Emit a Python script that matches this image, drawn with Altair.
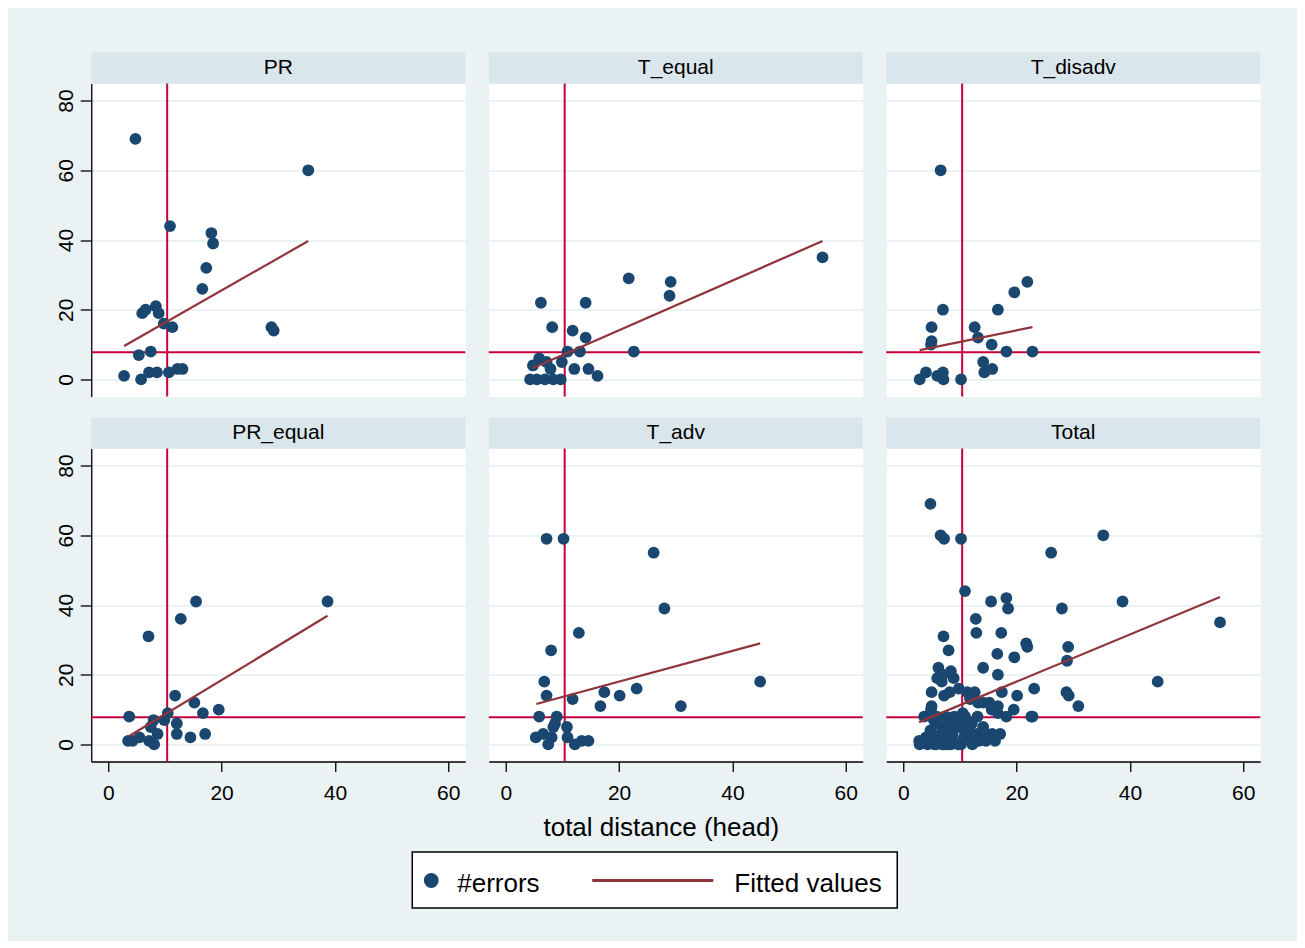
import altair as alt
import pandas as pd

# ---------------- data ----------------
panel_order = ["PR", "T_equal", "T_disadv", "PR_equal", "T_adv", "Total"]

pr_x = [4.8, 35.3, 10.9, 18.2, 18.5, 17.3, 16.6, 6.0, 6.6, 8.4, 8.9, 9.8, 11.3, 28.8, 29.2,
        5.4, 7.5, 2.8, 5.8, 7.2, 8.6, 10.7, 12.2, 13.1]
pr_y = [69, 60, 44, 42, 39, 32, 26, 19, 20, 21, 19, 16, 15, 15, 14,
        7, 8, 1, 0, 2, 2, 2, 3, 3]

teq_x = [55.9, 21.7, 29.1, 28.9, 6.2, 14.1, 8.2, 11.8, 14.1, 10.9, 13.1, 22.6, 5.9, 7.2,
         4.8, 9.9, 7.9, 12.1, 14.6, 16.2, 4.3, 5.5, 6.9, 8.4, 9.7]
teq_y = [35, 29, 28, 24, 22, 22, 15, 14, 12, 8, 8, 8, 6, 5,
         4, 5, 3, 3, 3, 1, 0, 0, 0, 0, 0]

tdis_x = [6.6, 21.9, 19.6, 16.7, 7.0, 5.0, 12.6, 13.2, 5.0, 4.9, 15.6, 18.2, 22.8, 14.1,
          14.3, 15.7, 4.0, 2.9, 6.0, 7.0, 7.1, 10.2]
tdis_y = [60, 28, 25, 20, 20, 15, 15, 12, 11, 10, 10, 8, 8, 5,
          2, 3, 2, 0, 1, 2, 0, 0]

preq_x = [15.5, 38.7, 12.8, 7.1, 11.8, 15.2, 19.5, 16.7, 3.7, 10.5, 8.0, 9.9, 12.1, 7.5,
          8.7, 12.1, 17.1, 14.5, 5.5, 3.5, 4.3, 7.2, 8.1]
preq_y = [41, 41, 36, 31, 14, 12, 10, 9, 8, 9, 7, 7, 6, 5,
          3, 3, 3, 2, 2, 1, 1, 1, 0]

tadv_x = [7.2, 10.2, 26.1, 28.0, 12.9, 8.0, 6.8, 44.9, 7.2, 11.8, 17.4, 20.1, 23.1, 16.7,
          30.9, 5.9, 9.0, 8.7, 8.4, 10.8, 5.3, 6.6, 8.1, 7.5, 10.9, 12.2, 13.4, 14.6]
tadv_y = [59, 59, 55, 39, 32, 27, 18, 18, 14, 13, 15, 14, 16, 11,
          11, 8, 8, 6, 5, 5, 2, 3, 2, 0, 2, 0, 1, 1]

# fitted-value line end points per panel (x0, y0, x1, y1)
fit_x0 = [2.8, 4.8, 2.9, 3.7, 5.4, 2.8]
fit_y0 = [9.6, 3.3, 8.4, 2.4, 11.6, 6.4]
fit_x1 = [35.3, 55.9, 22.8, 38.7, 44.9, 55.9]
fit_y1 = [39.7, 39.7, 15.0, 36.9, 29.0, 42.3]

x_ref = 10.4
y_ref = 7.8

x_ticks = [0, 20, 40, 60]
y_ticks = [0, 20, 40, 60, 80]
x_title = "total distance (head)"
legend_labels = ["#errors", "Fitted values"]

# ---------------- tables ----------------
groups = [("PR", pr_x, pr_y), ("T_equal", teq_x, teq_y), ("T_disadv", tdis_x, tdis_y),
          ("PR_equal", preq_x, preq_y), ("T_adv", tadv_x, tadv_y)]
rows = []
for name, xs, ys in groups:
    for a, b in zip(xs, ys):
        rows.append({"panel": name, "dist": a, "errors": b})
pts = pd.DataFrame(rows)
tot = pts.copy()
tot["panel"] = "Total"
pts = pd.concat([pts, tot], ignore_index=True)

fit_rows = []
for i, name in enumerate(panel_order):
    fit_rows.append({"panel": name, "dist": fit_x0[i], "errors": fit_y0[i]})
    fit_rows.append({"panel": name, "dist": fit_x1[i], "errors": fit_y1[i]})
fits = pd.DataFrame(fit_rows)

# ---------------- styling ----------------
NAVY = "#1A476F"
MAROON = "#90353B"
RED = "#C8003A"
BG = "#EAF2F3"
STRIP = "#D9E6EB"
FONT = "Liberation Sans"
W, H = 374, 313
SH = 31
XDOM = [-3, 63]
YDOM = [-4.9, 84.9]


def make_panel(name, r, c):
    xscale = alt.Scale(domain=XDOM, nice=False, zero=False)
    yscale = alt.Scale(domain=YDOM, nice=False, zero=False)
    if r == 1:
        ax_kw = dict(values=x_ticks, grid=False, domainColor="black", domainWidth=1.3,
                     tickColor="black", tickSize=10, tickWidth=1.3, labelFontSize=21,
                     labelColor="black", labelPadding=11, labelFont=FONT)
        if c == 1:
            ax_kw.update(title=x_title, titleFontSize=26, titleFontWeight="normal",
                         titleColor="black", titleFont=FONT, titleX=172, titleY=74,
                         titleAlign="center", titleBaseline="alphabetic")
            xenc = lambda f: alt.X(f, scale=xscale, axis=alt.Axis(**ax_kw))
        else:
            xenc = lambda f: alt.X(f, scale=xscale, axis=alt.Axis(**ax_kw), title=None)
    else:
        xenc = lambda f: alt.X(f, scale=xscale, axis=None)
    if c == 0:
        yaxis = alt.Axis(values=y_ticks, grid=True, gridColor=BG, gridWidth=2,
                         domainColor="black", domainWidth=1.3, tickColor="black",
                         tickSize=11, tickWidth=1.3, labelAngle=270, labelAlign="center",
                         labelBaseline="alphabetic", labelPadding=8, labelFontSize=21,
                         labelColor="black", labelFont=FONT)
    else:
        yaxis = alt.Axis(values=y_ticks, grid=True, gridColor=BG, gridWidth=2,
                         labels=False, ticks=False, domain=False)
    yenc = lambda f: alt.Y(f, scale=yscale, axis=yaxis, title=None)

    sdf = pd.DataFrame({"panel": [name]})
    strip = alt.Chart(sdf).mark_rect(color=STRIP).encode(
        x=alt.value(0), x2=alt.value(W), y=alt.value(-SH), y2=alt.value(0))
    strip_text = alt.Chart(sdf).mark_text(fontSize=21, color="black", baseline="middle",
                                          font=FONT).encode(
        x=alt.value(W / 2), y=alt.value(-SH / 2), text="panel:N")

    vr = alt.Chart(pd.DataFrame({"dist": [x_ref]})).mark_rule(
        color=RED, strokeWidth=2).encode(x=xenc("dist:Q"))
    hr = alt.Chart(pd.DataFrame({"errors": [y_ref]})).mark_rule(
        color=RED, strokeWidth=2).encode(y=yenc("errors:Q"))
    p = alt.Chart(pts[pts.panel == name]).mark_circle(
        size=139, color=NAVY, opacity=1).encode(x=xenc("dist:Q"), y=yenc("errors:Q"))
    f = alt.Chart(fits[fits.panel == name]).mark_line(
        color=MAROON, strokeWidth=2.2).encode(x=xenc("dist:Q"), y=yenc("errors:Q"))
    return alt.layer(strip, strip_text, vr, hr, p, f).properties(width=W, height=H)


row1 = alt.hconcat(make_panel("PR", 0, 0), make_panel("T_equal", 0, 1),
                   make_panel("T_disadv", 0, 2), spacing=19.5)
row2 = alt.hconcat(make_panel("PR_equal", 1, 0), make_panel("T_adv", 1, 1),
                   make_panel("Total", 1, 2), spacing=19.5)
grid = alt.vconcat(row1, row2, spacing=18)

# ---------------- legend ----------------
BW, BH = 485, 56          # legend box
LW = BW + 43              # chart width (box is shifted left of centre)
one = pd.DataFrame({"k": [0]})
leg_box = alt.Chart(one).mark_rect(fill="white", stroke="black", strokeWidth=1.5).encode(
    x=alt.value(0), x2=alt.value(BW), y=alt.value(0), y2=alt.value(BH))
leg_pt = alt.Chart(one).mark_circle(size=219, color=NAVY, opacity=1).encode(
    x=alt.value(19), y=alt.value(28.5))
leg_t1 = alt.Chart(one).mark_text(align="left", baseline="alphabetic", fontSize=26,
                                  color="black", font=FONT).encode(
    x=alt.value(45), y=alt.value(39.5), text=alt.value(legend_labels[0]))
leg_ln = alt.Chart(one).mark_rule(color=MAROON, strokeWidth=3).encode(
    x=alt.value(180), x2=alt.value(301), y=alt.value(28.5))
leg_t2 = alt.Chart(one).mark_text(align="left", baseline="alphabetic", fontSize=26,
                                  color="black", font=FONT).encode(
    x=alt.value(322), y=alt.value(39.5), text=alt.value(legend_labels[1]))
legend = alt.layer(leg_box, leg_pt, leg_t1, leg_ln, leg_t2).properties(
    width=LW, height=BH,
    view=alt.ViewBackground(fill="transparent", stroke="transparent"))

chart = alt.vconcat(grid, legend, spacing=8.5, center=True).properties(
    background=BG,
    padding={"left": 46, "top": 43.5, "right": 35, "bottom": 31},
).configure(font=FONT).configure_view(fill="white", stroke="transparent")

chart.save("out.html", embed_options={"renderer": "svg", "actions": False})
